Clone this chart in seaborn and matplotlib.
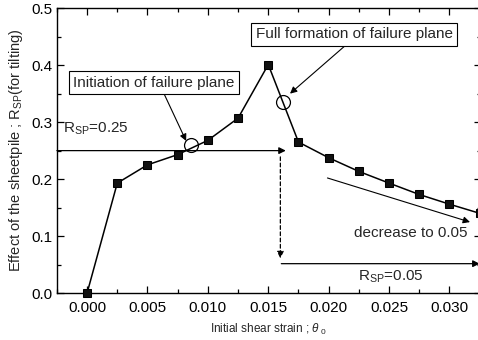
import matplotlib
matplotlib.use("Agg")
import matplotlib.pyplot as plt
import seaborn as sns
import pandas as pd
from matplotlib.ticker import MultipleLocator

strain = [0.0, 0.0025, 0.005, 0.0075, 0.010, 0.0125, 0.015, 0.0175,
          0.020, 0.0225, 0.025, 0.0275, 0.030, 0.0325]
rsp = [0.0, 0.193, 0.225, 0.243, 0.268, 0.307, 0.401, 0.265,
       0.2375, 0.2135, 0.193, 0.173, 0.156, 0.140]

sns.set_theme(style="ticks")
plt.rcParams['font.family'] = ['Liberation Sans', 'DejaVu Sans']
plt.rcParams['mathtext.fontset'] = 'custom'
plt.rcParams['mathtext.rm'] = 'Liberation Sans'
plt.rcParams['mathtext.it'] = 'Liberation Sans:italic'

fig = plt.figure(figsize=(4.78, 3.40), dpi=100)
ax = fig.add_axes([0.119, 0.138, 1.006 - 0.119, 0.976 - 0.138])

df = pd.DataFrame({"strain": strain, "rsp": rsp})
sns.lineplot(data=df, x="strain", y="rsp", ax=ax, color="black", lw=1.1,
             marker="s", markersize=5.5, markeredgecolor="black",
             markerfacecolor="#111111", clip_on=False, zorder=3)

ax.set_xlim(-0.0025, 0.0326)
ax.set_ylim(0.0, 0.5)
ax.xaxis.set_major_locator(MultipleLocator(0.005))
ax.xaxis.set_minor_locator(MultipleLocator(0.0025))
ax.yaxis.set_major_locator(MultipleLocator(0.1))
ax.yaxis.set_minor_locator(MultipleLocator(0.05))
ax.set_xticks([0.0, 0.005, 0.010, 0.015, 0.020, 0.025, 0.030])
ax.set_xticklabels(["0.000", "0.005", "0.010", "0.015", "0.020", "0.025", "0.030"])
ax.set_yticks([0.0, 0.1, 0.2, 0.3, 0.4, 0.5])
ax.set_yticklabels(["0.0", "0.1", "0.2", "0.3", "0.4", "0.5"])
ax.tick_params(which="both", direction="in", top=True, right=True,
               colors="black", labelsize=11, width=0.9)
ax.tick_params(axis="x", which="major", length=5, pad=6)
ax.tick_params(axis="y", which="major", length=5, pad=3)
ax.tick_params(which="minor", length=3)
for s in ax.spines.values():
    s.set_linewidth(1.0)
    s.set_color("black")

ax.set_xlabel(r"Initial shear strain ; $\theta$$_{\ 0}$", fontsize=8.5, labelpad=5)
ax.set_ylabel(r"Effect of the sheetpile ; R$_{\rm SP}$(for tilting)", fontsize=10.5, labelpad=5)

# R_SP = 0.25 line with arrow
ax.annotate("", xy=(0.01645, 0.25), xytext=(-0.0025, 0.25),
            arrowprops=dict(arrowstyle="-|>", color="black", lw=0.9,
                            mutation_scale=10, shrinkA=0, shrinkB=0))
ax.text(-0.0020, 0.289, r"R$_{\rm SP}$=0.25", fontsize=11, va="center", ha="left")

# dashed vertical arrow
ax.annotate("", xy=(0.0160, 0.061), xytext=(0.0160, 0.239),
            arrowprops=dict(arrowstyle="-|>", color="black", lw=0.9, ls=(0, (3, 2)),
                            mutation_scale=10, shrinkA=0, shrinkB=0))
# R_SP = 0.05 arrow
ax.annotate("", xy=(0.0325, 0.0516), xytext=(0.01608, 0.0516),
            arrowprops=dict(arrowstyle="-|>", color="black", lw=0.9,
                            mutation_scale=10, shrinkA=0, shrinkB=0))
ax.text(0.0224, 0.028, r"R$_{\rm SP}$=0.05", fontsize=11, va="center", ha="left")

# decrease arrow
ax.annotate("", xy=(0.0317, 0.1246), xytext=(0.0199, 0.202),
            arrowprops=dict(arrowstyle="-|>", color="black", lw=0.8,
                            mutation_scale=10, shrinkA=0, shrinkB=0))
ax.text(0.0315, 0.105, "decrease to 0.05", fontsize=11, va="center", ha="right")

# open circles
ax.plot([0.00862], [0.260], marker="o", markersize=10, markerfacecolor="none",
        markeredgecolor="black", markeredgewidth=0.9, ls="none", zorder=4)
ax.plot([0.01624], [0.336], marker="o", markersize=10, markerfacecolor="none",
        markeredgecolor="black", markeredgewidth=0.9, ls="none", zorder=4)

# annotation boxes
box = dict(boxstyle="square,pad=0.3", fc="white", ec="black", lw=0.8)
ax.annotate("Initiation of failure plane", xy=(0.0082, 0.267),
            xytext=(0.00555, 0.369), fontsize=11, ha="center", va="center",
            bbox=box,
            arrowprops=dict(arrowstyle="-|>", color="black", lw=0.8,
                            mutation_scale=10, shrinkA=0, shrinkB=0,
                            relpos=(0.55, 0.0)))
ax.annotate("Full formation of failure plane", xy=(0.01680, 0.350),
            xytext=(0.02210, 0.454), fontsize=11, ha="center", va="center",
            bbox=box,
            arrowprops=dict(arrowstyle="-|>", color="black", lw=0.8,
                            mutation_scale=10, shrinkA=0, shrinkB=0,
                            relpos=(0.48, 0.0)))

fig.savefig("out.png", dpi=100)
